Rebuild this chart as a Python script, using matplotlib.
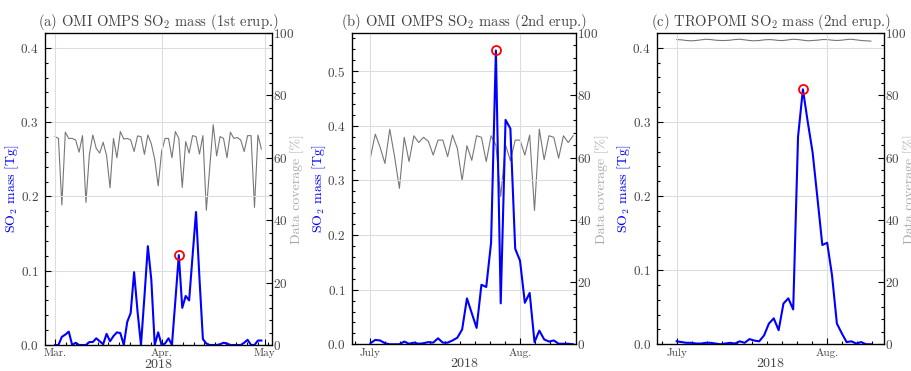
import numpy as np
import pandas as pd
import matplotlib
matplotlib.use("Agg")
import matplotlib.pyplot as plt
from matplotlib.ticker import AutoMinorLocator, MultipleLocator, FixedLocator, FixedFormatter

# ---------------------------------------------------------
# FONTS (LaTeX look)
# ---------------------------------------------------------
plt.rcParams["font.family"] = "serif"
plt.rcParams["font.serif"] = ["cmr10"]
plt.rcParams["mathtext.fontset"] = "cm"
plt.rcParams["axes.formatter.use_mathtext"] = True
plt.rcParams["axes.unicode_minus"] = False

# ---------------------------------------------------------
# DATA
# ---------------------------------------------------------
# (a) 1st eruption, daily from 2018-03-01
start_a = "2018-03-01"
so2_a = [0.000, 0.000, 0.011, 0.014, 0.018, 0.000, 0.003, 0.000, 0.000, 0.000,
         0.004, 0.004, 0.009, 0.005, 0.001, 0.015, 0.005, 0.012, 0.017, 0.016,
         0.000, 0.031, 0.043, 0.098, 0.045, 0.000, 0.065, 0.133, 0.088, 0.000,
         0.017, 0.000, 0.002, 0.009, 0.000, 0.060, 0.121, 0.050, 0.066, 0.060,
         0.120, 0.179, 0.090, 0.008, 0.002, 0.000, 0.000, 0.000, 0.001, 0.003,
         0.002, 0.000, 0.000, 0.000, 0.000, 0.003, 0.007, 0.000, 0.000, 0.006,
         0.006]
cov_a = [66.8, 66.2, 44.9, 68.2, 66.2, 66.2, 65.7, 61.8, 67.1, 45.7,
         61.1, 67.3, 63.0, 61.5, 65.0, 60.7, 50.4, 66.2, 60.0, 68.4,
         66.0, 66.2, 65.7, 62.0, 67.0, 66.8, 61.1, 67.3, 64.5, 59.5,
         51.0, 62.0, 66.2, 66.2, 60.0, 68.4, 66.2, 50.5, 65.2, 61.5,
         67.1, 66.8, 61.2, 67.1, 43.2, 57.0, 70.6, 60.6, 66.8, 66.2,
         60.0, 68.2, 66.2, 66.5, 65.7, 62.0, 67.1, 67.1, 44.1, 67.3,
         62.8]
peak_a = 36
ticks_a = ["2018-03-01", "2018-04-01", "2018-05-01"]
labels_a = ["Mar.", "Apr.", "May"]

# (b) 2nd eruption OMI/OMPS, daily from 2018-07-01
start_b = "2018-07-01"
so2_b = [0.002, 0.008, 0.007, 0.002, 0.000, 0.000, 0.000, 0.005, 0.001, 0.003,
         0.001, 0.002, 0.004, 0.003, 0.011, 0.003, 0.003, 0.007, 0.012, 0.027,
         0.084, 0.057, 0.030, 0.109, 0.105, 0.186, 0.538, 0.075, 0.411, 0.395,
         0.175, 0.153, 0.076, 0.094, 0.004, 0.025, 0.009, 0.005, 0.007, 0.001,
         0.001, 0.001, 0.000]
cov_b = [60.1, 67.5, 63.3, 58.1, 69.1, 60.3, 50.1, 66.5, 58.7, 67.0,
         64.8, 66.5, 65.2, 60.8, 65.6, 65.6, 60.3, 67.2, 63.0, 52.6,
         63.8, 59.1, 67.0, 66.5, 58.7, 67.0, 64.0, 47.5, 64.0, 59.0,
         65.6, 65.6, 60.8, 67.2, 43.0, 69.1, 59.3, 67.0, 66.5, 59.8,
         67.0, 64.8, 67.0]
peak_b = 26

# (c) 2nd eruption TROPOMI, daily from 2018-07-01
start_c = "2018-07-01"
so2_c = [0.004, 0.003, 0.002, 0.002, 0.001, 0.001, 0.002, 0.002, 0.001, 0.000,
         0.001, 0.002, 0.001, 0.004, 0.002, 0.007, 0.005, 0.004, 0.012, 0.028,
         0.035, 0.019, 0.055, 0.062, 0.047, 0.280, 0.344, 0.300, 0.259, 0.197,
         0.134, 0.137, 0.093, 0.028, 0.015, 0.003, 0.004, 0.001, 0.003, 0.000,
         0.000]
cov_c = [97.9, 97.8, 97.6, 97.5, 97.6, 97.8, 98.0, 97.9, 97.7, 97.6,
         97.6, 97.7, 97.9, 98.0, 97.8, 97.6, 97.5, 97.6, 97.8, 97.9,
         97.8, 97.6, 97.6, 97.8, 98.0, 97.9, 97.7, 97.5, 97.6, 97.7,
         97.9, 97.9, 97.7, 97.6, 97.7, 97.9, 98.0, 97.8, 97.6, 97.5,
         97.4]
peak_c = 26
ticks_bc = ["2018-07-01", "2018-08-01"]
labels_bc = ["July", "Aug."]

# ---------------------------------------------------------
# FIGURE
# ---------------------------------------------------------
blue, grey, red = "#0000ff", "#777777", "#ff0000"
txt = "#444444"

panels = [
    dict(pos=[0.0493, 0.0701, 0.2486, 0.841], start=start_a, so2=so2_a, cov=cov_a, peak=peak_a,
         xlim=("2018-02-26 02:00", "2018-05-03 00:00"), ylim=(0, 0.42),
         ticks=ticks_a, labels=labels_a,
         title=r"(a) OMI OMPS SO$_2$ mass (1st erup.)"),
    dict(pos=[0.3857, 0.0720, 0.2460, 0.839], start=start_b, so2=so2_b, cov=cov_b, peak=peak_b,
         xlim=("2018-06-27 03:00", "2018-08-12 15:00"), ylim=(0, 0.57),
         ticks=ticks_bc, labels=labels_bc,
         title=r"(b) OMI OMPS SO$_2$ mass (2nd erup.)"),
    dict(pos=[0.7207, 0.0720, 0.2486, 0.839], start=start_c, so2=so2_c, cov=cov_c, peak=peak_c,
         xlim=("2018-06-27 00:00", "2018-08-12 17:00"), ylim=(0, 0.42),
         ticks=ticks_bc, labels=labels_bc,
         title=r"(c) TROPOMI SO$_2$ mass (2nd erup.)"),
]

fig = plt.figure(figsize=(9.12, 3.71), dpi=100)

for p in panels:
    ax = fig.add_axes(p["pos"])
    ax2 = ax.twinx()
    ax.set_zorder(ax2.get_zorder() + 1)
    ax.patch.set_visible(False)

    dates = pd.date_range(p["start"], periods=len(p["so2"]), freq="D")
    so2 = np.array(p["so2"])

    ax2.plot(dates, p["cov"], color=grey, lw=0.8)
    ax.plot(dates, so2, color=blue, lw=1.5)
    ax.plot(dates[p["peak"]], so2[p["peak"]], "o", ms=6.5, mfc="none", mec=red, mew=1.3)

    ax.set_xlim(pd.Timestamp(p["xlim"][0]), pd.Timestamp(p["xlim"][1]))
    ax.set_ylim(*p["ylim"])
    ax2.set_ylim(0, 100)

    tick_pos = [matplotlib.dates.date2num(pd.Timestamp(t)) for t in p["ticks"]]
    ax.xaxis.set_major_locator(FixedLocator(tick_pos))
    ax.xaxis.set_major_formatter(FixedFormatter(p["labels"]))
    ax.xaxis.set_minor_locator(AutoMinorLocator(10))
    ax.yaxis.set_major_locator(MultipleLocator(0.1))
    ax.yaxis.set_minor_locator(AutoMinorLocator(5))
    ax2.yaxis.set_major_locator(MultipleLocator(20))
    ax2.yaxis.set_minor_locator(AutoMinorLocator(5))

    ax.grid(True, which="major", color="#dddddd", lw=0.8)
    ax.set_axisbelow(True)

    ax.tick_params(axis="both", which="both", direction="in", color="black", width=0.8,
                   labelcolor=txt, labelsize=9.5, top=False, right=False)
    ax.tick_params(which="major", length=4)
    ax.tick_params(which="minor", length=2.2)
    ax.tick_params(axis="y", pad=4.5)
    ax.tick_params(axis="x", labelsize=8, pad=2.5)
    ax2.tick_params(axis="y", which="both", direction="in", color="black", width=0.8,
                    labelcolor=txt, labelsize=9.5, pad=1)
    ax2.tick_params(which="major", length=4)
    ax2.tick_params(which="minor", length=2.2)

    for ss in ax.spines.values():
        ss.set_linewidth(0.9)

    ax.set_ylabel(r"SO$_2$ mass [Tg]", color=blue, fontsize=10)
    ax.yaxis.set_label_coords(-0.105, 0.5)
    ax2.set_ylabel("Data coverage [%]", color="#aaaaaa", fontsize=10)
    ax2.yaxis.set_label_coords(1.085, 0.5)
    ax.set_xlabel("2018", color=txt, fontsize=10, labelpad=0)
    ax.set_title(p["title"], color=txt, fontsize=10.5, pad=5)

fig.savefig("out.png", dpi=100)
